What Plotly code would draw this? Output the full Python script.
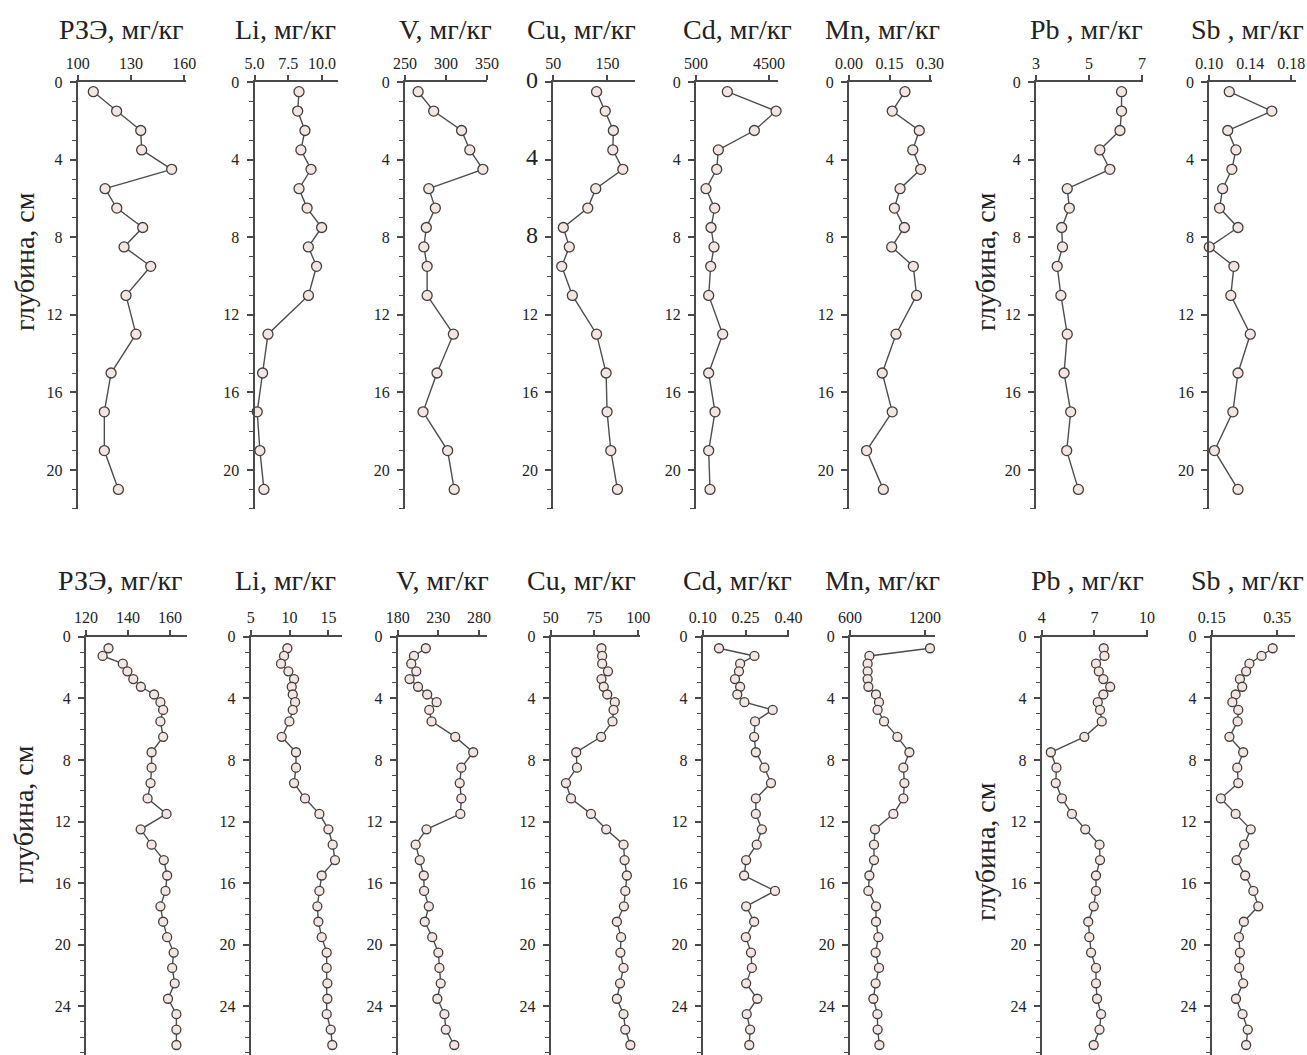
import plotly.graph_objects as go

W, H = 1307, 1055

# ---------------- data ----------------
depth_top = [0.5, 1.5, 2.5, 3.5, 4.5, 5.5, 6.5, 7.5, 8.5, 9.5, 11, 13, 15, 17, 19, 21]
depth_bottom = [0.75, 1.25, 1.75, 2.25, 2.75, 3.25, 3.75, 4.25, 4.75,
                5.5, 6.5, 7.5, 8.5, 9.5, 10.5, 11.5, 12.5, 13.5, 14.5, 15.5,
                16.5, 17.5, 18.5, 19.5, 20.5, 21.5, 22.5, 23.5, 24.5, 25.5, 26.5]

ree_top = [108.8, 121.9, 135.5, 136.0, 152.9, 115.4, 122.0, 136.6, 126.1, 141.1,
           127.2, 132.8, 118.8, 115.0, 115.0, 122.9]
li_top = [8.3, 8.2, 8.74, 8.44, 9.19, 8.3, 8.9, 9.98, 8.99, 9.6, 9.0, 6.0, 5.6, 5.2, 5.4, 5.7]
v_top = [266, 285, 319, 329, 345, 279, 287, 276, 273, 277, 277, 309, 289, 272, 302, 310]
cu_top = [130, 146, 161, 160, 178.5, 128.5, 113.7, 68.5, 79.6, 65.6, 85.2, 130, 147.6,
          149.4, 156.3, 168.5]
cd_top = [2216, 4884, 3695, 1722, 1634, 1048, 1523, 1322, 1486, 1305, 1194, 1961, 1194,
          1541, 1194, 1267]
mn_top = [0.207, 0.160, 0.260, 0.236, 0.265, 0.189, 0.168, 0.205, 0.158, 0.238, 0.250,
          0.174, 0.123, 0.160, 0.065, 0.127]
pb_top = [6.23, 6.23, 6.17, 5.41, 5.79, 4.18, 4.26, 3.97, 4.0, 3.80, 3.94, 4.18, 4.06,
          4.31, 4.16, 4.6]
sb_top = [0.1195, 0.161, 0.118, 0.126, 0.122, 0.113, 0.110, 0.128, 0.100, 0.124, 0.121,
          0.140, 0.128, 0.123, 0.105, 0.128]

ree_bottom = [130.7, 127.9, 137.5, 139.7, 142.5, 146.1, 152.4, 155.4, 156.7, 155.4, 156.7,
              151.2, 151.2, 150.7, 149.3, 158.3, 146.0, 151.2, 157.0, 158.6, 157.8, 155.4,
              156.7, 158.6, 161.7, 161.0, 162.2, 159.0, 163.0, 163.0, 163.0]
li_bottom = [9.72, 9.29, 8.90, 9.85, 10.58, 10.28, 10.41, 10.71, 10.41, 9.98, 8.99, 10.83,
             10.83, 10.58, 11.99, 13.84, 15.0, 15.55, 15.85, 14.14, 13.84, 13.58, 13.71,
             14.14, 14.78, 14.78, 14.87, 14.87, 14.78, 15.3, 15.5]
v_bottom = [214.6, 200.0, 196.7, 202.9, 194.6, 205.0, 216.3, 227.9, 218.8, 221.7, 250.8,
            272.9, 258.3, 256.3, 258.3, 257.1, 215.4, 202.1, 207.1, 212.1, 212.5, 218.3,
            213.3, 222.5, 230.0, 231.3, 232.9, 228.8, 237.5, 239.2, 249.6]
cu_bottom = [79.0, 79.4, 79.4, 82.7, 79.0, 80.3, 82.3, 86.6, 85.9, 85.3, 78.8, 64.6, 65.0,
             58.7, 61.6, 73.0, 81.7, 91.6, 92.2, 93.5, 92.6, 91.8, 87.8, 90.2, 89.8, 91.6,
             89.6, 87.8, 91.6, 92.6, 95.5]
cd_bottom = [0.157, 0.281, 0.231, 0.227, 0.213, 0.231, 0.221, 0.246, 0.345, 0.283, 0.280,
             0.286, 0.316, 0.339, 0.286, 0.286, 0.307, 0.289, 0.252, 0.245, 0.353, 0.252,
             0.280, 0.251, 0.269, 0.272, 0.252, 0.291, 0.254, 0.266, 0.263]
mn_bottom = [1240, 755, 741, 741, 741, 747, 808, 832, 821, 872, 979, 1075, 1027, 1035, 1027,
             947, 800, 792, 792, 755, 747, 808, 808, 827, 805, 832, 805, 787, 819, 821, 835]
pb_bottom = [7.53, 7.57, 7.09, 7.25, 7.51, 7.90, 7.51, 7.19, 7.32, 7.42, 6.43, 4.52, 4.84,
             4.80, 5.15, 5.72, 6.48, 7.29, 7.32, 7.09, 7.09, 6.96, 6.65, 6.71, 6.81, 7.09,
             7.09, 7.15, 7.38, 7.29, 6.96]
sb_bottom = [0.336, 0.302, 0.265, 0.255, 0.236, 0.243, 0.223, 0.213, 0.231, 0.229, 0.204,
             0.246, 0.228, 0.231, 0.178, 0.223, 0.269, 0.249, 0.226, 0.252, 0.277, 0.292,
             0.248, 0.233, 0.236, 0.234, 0.246, 0.224, 0.244, 0.260, 0.255]

titles = ["РЗЭ, мг/кг", "Li, мг/кг", "V, мг/кг", "Cu, мг/кг",
          "Cd, мг/кг", "Mn, мг/кг", "Pb , мг/кг", "Sb , мг/кг"]

top_ticks = [["100", "130", "160"], ["5.0", "7.5", "10.0"], ["250", "300", "350"],
             ["50", "150"], ["500", "4500"], ["0.00", "0.15", "0.30"],
             ["3", "5", "7"], ["0.10", "0.14", "0.18"]]
bottom_ticks = [["120", "140", "160"], ["5", "10", "15"], ["180", "230", "280"],
                ["50", "75", "100"], ["0.10", "0.25", "0.40"], ["600", "1200"],
                ["4", "7", "10"], ["0.15", "0.35"]]

# ---------------- layout geometry (pixels) ----------------
top_panels = [
    (ree_top, 77.7, 185.7, [100, 160.8]),
    (li_top, 254.5, 338.0, [5, 11.19]),
    (v_top, 405.0, 487.0, [250, 350]),
    (cu_top, 553.3, 635.0, [50, 201]),
    (cd_top, 696.0, 778.0, [500, 4990]),
    (mn_top, 849.0, 931.7, [0, 0.306]),
    (pb_top, 1036.0, 1143.0, [3, 7.04]),
    (sb_top, 1209.3, 1296.0, [0.10, 0.1846]),
]
bottom_panels = [
    (ree_bottom, 86.0, 186.7, [120, 167.9]),
    (li_bottom, 250.7, 342.0, [5, 16.75]),
    (v_bottom, 397.7, 486.7, [180, 289.5]),
    (cu_bottom, 550.7, 640.0, [50, 101]),
    (cd_bottom, 702.7, 789.0, [0.10, 0.402]),
    (mn_bottom, 850.0, 935.0, [600, 1280]),
    (pb_bottom, 1041.7, 1148.0, [4, 10.05]),
    (sb_bottom, 1211.7, 1295.0, [0.15, 0.404]),
]

top_title_x = [121, 285, 446, 581, 737, 883, 1086, 1247]
bottom_title_x = [120, 285, 442, 581, 737, 882, 1087, 1247]

ROW_TOP = (82.0, 508.8, 22.0)      # y of depth 0, y of bottom, max depth
ROW_BOT = (636.7, 1055.0, 27.15)

FONT = "Liberation Serif"
AX = "#4a4a4a"
INK = "#222222"

fig = go.Figure()
layout = dict(
    width=W, height=H, margin=dict(l=0, r=0, t=0, b=0, autoexpand=False),
    paper_bgcolor="white", plot_bgcolor="white", showlegend=False,
    font=dict(family=FONT, color=INK, size=16),
)
annotations = []

idx = 0
for row, panels, depths, ticks, tx in [
    (ROW_TOP, top_panels, depth_top, top_ticks, top_title_x),
    (ROW_BOT, bottom_panels, depth_bottom, bottom_ticks, bottom_title_x),
]:
    y0px, y1px, dmax = row
    for j, (vals, x0, x1, rng) in enumerate(panels):
        idx += 1
        xa = "x" if idx == 1 else f"x{idx}"
        ya = "y" if idx == 1 else f"y{idx}"
        fig.add_trace(go.Scatter(
            x=vals, y=depths, xaxis=xa, yaxis=ya, mode="lines+markers",
            line=dict(color="#4d4d4d", width=1.4),
            marker=dict(size=10 if row is ROW_TOP else 9, color="#f3e6e2",
                        line=dict(color="#3f3f3f", width=1.3)),
            cliponaxis=False,
        ))
        tickvals = [float(t) for t in ticks[j]]
        layout[f"xaxis{idx}"] = dict(
            domain=[x0 / W, x1 / W], anchor=ya, side="top", range=rng,
            showline=True, linecolor=AX, linewidth=2, showgrid=False, zeroline=False,
            ticks="outside", ticklen=5, tickwidth=1.5, tickcolor=AX,
            tickmode="array", tickvals=tickvals, ticktext=ticks[j],
            tickfont=dict(family=FONT, size=16, color=INK), automargin=False,
        )
        if row is ROW_TOP:
            yvals = [0, 4, 8, 12, 16, 20]
        else:
            yvals = [0, 4, 8, 12, 16, 20, 24]
        ytext = [str(v) for v in yvals]
        if row is ROW_TOP and j == 3:
            ytext = [f"<span style='font-size:24px'>{v}</span>" if v in (0, 4, 8) else str(v)
                     for v in yvals]
        layout[f"yaxis{idx}"] = dict(
            domain=[1 - y1px / H, 1 - y0px / H], anchor=xa, range=[dmax, 0],
            showline=True, linecolor=AX, linewidth=2, showgrid=False, zeroline=False,
            ticks="outside", ticklen=6, tickwidth=1.5, tickcolor=AX,
            tickmode="array", tickvals=yvals, ticktext=ytext,
            tickfont=dict(family=FONT, size=16, color=INK),
            ticklabelstandoff=4, automargin=False,
            minor=dict(tickmode="linear", tick0=0, dtick=1, ticks="outside",
                       ticklen=4, tickwidth=1.3, tickcolor=AX, showgrid=False),
        )
        annotations.append(dict(
            text=titles[j], x=tx[j] / W, y=1 - ((30 if row is ROW_TOP else 580) / H),
            xref="paper", yref="paper", showarrow=False, xanchor="center", yanchor="middle",
            font=dict(family=FONT, size=28, color=INK),
        ))

for cx, cy in [(24, 262), (985, 262), (23, 815), (985, 852)]:
    annotations.append(dict(
        text="глубина, см", x=cx / W, y=1 - cy / H, xref="paper", yref="paper",
        showarrow=False, textangle=-90, xanchor="center", yanchor="middle",
        font=dict(family=FONT, size=28, color=INK),
    ))

layout["annotations"] = annotations
fig.update_layout(**layout)
fig.write_html(
    "out.html",
    config={"displayModeBar": False},
    post_script="document.body.style.margin='0px';document.body.style.overflow='hidden';",
)
